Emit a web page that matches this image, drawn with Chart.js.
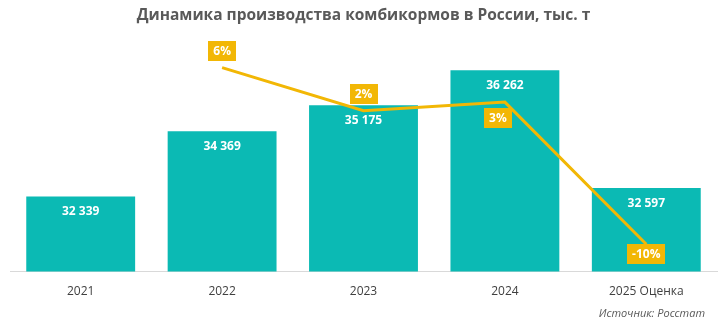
<!DOCTYPE html>
<html><head><meta charset="utf-8">
<script src="https://cdn.jsdelivr.net/npm/chart.js@4"></script>
<style>html,body{margin:0;padding:0;background:#fff}#wrap{width:725px;height:327px}</style>
</head><body><div id="wrap"><canvas id="c" width="725" height="327"></canvas></div>
<script>
const categories = ['2021', '2022', '2023', '2024', '2025 Оценка'];
const production = [32339, 34369, 35175, 36262, 32597];
const growthPct = [null, 6.3, 2.3, 3.1, -10.1];
const growthLabels = [null, '6%', '2%', '3%', '-10%'];
const titleText = 'Динамика производства комбикормов в России, тыс. т';
const sourceText = 'Источник: Росстат';

const TEAL = '#0BBAB4';
const GOLD = '#F2B705';
const FONT = '"Open Sans", "Noto Sans", sans-serif';

function fmt(n){ return String(n).replace(/\B(?=(\d{3})+(?!\d))/g, ' '); }

// label placement offsets for the growth labels (px relative to point)
const growthLabelDy = [0, -17, -17, 16, 10];
const growthLabelDx = [0, 0, 0, -7, 0];

const labelPlugin = {
  id: 'labels',
  afterDatasetsDraw(chart){
    const ctx = chart.ctx;
    ctx.save();
    const bars = chart.getDatasetMeta(0).data;
    ctx.font = 'bold 12px ' + FONT;
    ctx.fillStyle = '#fff';
    ctx.textAlign = 'center';
    ctx.textBaseline = 'middle';
    bars.forEach((b, i) => {
      ctx.fillText(fmt(production[i]), b.x, b.y + 15);
    });
    const pts = chart.getDatasetMeta(1).data;
    pts.forEach((p, i) => {
      if (growthPct[i] == null) return;
      const t = growthLabels[i];
      const w = ctx.measureText(t).width + 10;
      const h = 20;
      const cx = p.x + growthLabelDx[i], cy = p.y + growthLabelDy[i];
      ctx.fillStyle = GOLD;
      ctx.fillRect(Math.round(cx - w/2), Math.round(cy - h/2), Math.round(w), h);
      ctx.fillStyle = '#fff';
      ctx.fillText(t, cx, cy + 0.5);
    });
    ctx.restore();
  },
  afterDraw(chart){
    const ctx = chart.ctx;
    ctx.save();
    ctx.font = 'italic 11px ' + FONT;
    ctx.fillStyle = '#595959';
    ctx.textAlign = 'right';
    ctx.textBaseline = 'middle';
    ctx.fillText(sourceText, chart.chartArea.right - 12, chart.height - 13);
    ctx.restore();
  }
};

new Chart(document.getElementById('c'), {
  data: {
    labels: categories,
    datasets: [
      { type: 'bar', data: production, backgroundColor: TEAL, yAxisID: 'y',
        categoryPercentage: 1, barPercentage: 0.77, order: 2 },
      { type: 'line', data: growthPct, borderColor: GOLD, borderWidth: 3, pointRadius: 0,
        yAxisID: 'y2', order: 1, spanGaps: false, tension: 0 }
    ]
  },
  options: {
    responsive: false,
    animation: false,
    layout: { padding: { left: 10, right: 8, top: 0, bottom: 15 } },
    plugins: {
      legend: { display: false },
      tooltip: { enabled: false },
      title: { display: true, text: titleText,
        color: '#595959', font: { family: FONT, size: 15.5, weight: 'bold' }, padding: { top: 6, bottom: 15 } }
    },
    scales: {
      x: { grid: { display: false, drawTicks: false }, border: { display: true, color: '#D9D9D9', width: 1 },
        ticks: { color: '#404040', font: { family: FONT, size: 12 }, padding: 13 } },
      y: { display: false, min: 30000, max: 37217 },
      y2: { display: false, min: -12.64, max: 8.9 }
    }
  },
  plugins: [labelPlugin]
});
</script></body></html>
